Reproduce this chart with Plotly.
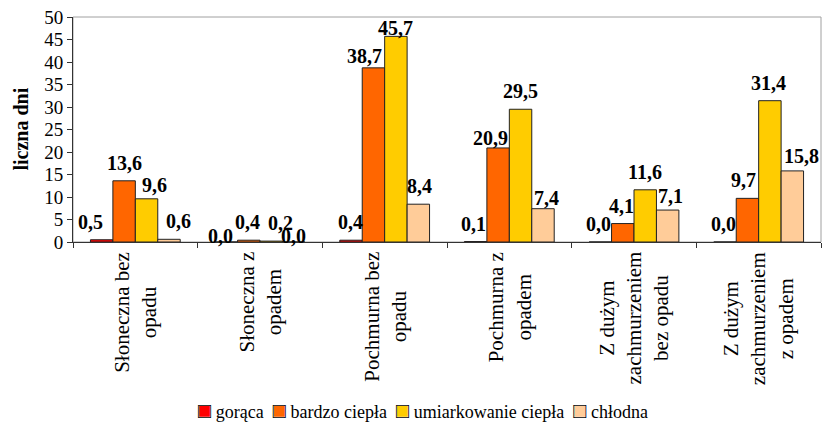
import plotly.graph_objects as go

# Number of days per cloud/precipitation class, split by thermal class
categories = [
    "Słoneczna bez<br>opadu",
    "Słoneczna z<br>opadem",
    "Pochmurna bez<br>opadu",
    "Pochmurna z<br>opadem",
    "Z dużym<br>zachmurzeniem<br>bez opadu",
    "Z dużym<br>zachmurzeniem<br>z opadem",
]
series_names = ["gorąca", "bardzo ciepła", "umiarkowanie ciepła", "chłodna"]
goraca = [0.5, 0.0, 0.4, 0.1, 0.0, 0.0]
bardzo_ciepla = [13.6, 0.4, 38.7, 20.9, 4.1, 9.7]
umiarkowanie_ciepla = [9.6, 0.2, 45.7, 29.5, 11.6, 31.4]
chlodna = [0.6, 0.0, 8.4, 7.4, 7.1, 15.8]
y_ticks = [0, 5, 10, 15, 20, 25, 30, 35, 40, 45, 50]

series_values = [goraca, bardzo_ciepla, umiarkowanie_ciepla, chlodna]
colors = ["#FF0000", "#FF6600", "#FFCC00", "#FFCC99"]

# hand-tuned label nudges (px) so neighbouring value labels do not collide
label_dx = [
    [-11, -6, -1, -2, -2, -2],
    [0, -1, -9, -8, -1, -4],
    [8, 9, 0, 0, 0, -1],
    [10, 0, 1, 4, 3, 9],
]
label_dy = [
    [0, -12, 0, 0, 0, 0],
    [0, 0, -6, -8, 0, 0],
    [-4, 0, -10, 0, 0, 0],
    [0, -12, 0, -7, -4, -3],
]

FONT = "Liberation Serif"
BARGAP = 0.28
n_series = len(series_values)
bar_w = (1 - BARGAP) / n_series
xs = list(range(len(categories)))

fig = go.Figure()
for name, vals, col in zip(series_names, series_values, colors):
    fig.add_trace(go.Bar(
        x=xs, y=vals, name=name, showlegend=False,
        marker=dict(color=col, line=dict(color="#222222", width=1)),
    ))

annotations = []
# value labels above each bar
for k, vals in enumerate(series_values):
    off = (k - (n_series - 1) / 2) * bar_w
    for i, v in enumerate(vals):
        annotations.append(dict(
            x=i + off, y=v, xref="x", yref="y",
            text="<b>" + f"{v:.1f}".replace(".", ",") + "</b>",
            showarrow=False, xanchor="center", yanchor="bottom",
            xshift=label_dx[k][i], yshift=5 + label_dy[k][i],
            font=dict(family=FONT, size=20, color="#000000"),
        ))

# rotated category labels under the axis
for i, cat in enumerate(categories):
    annotations.append(dict(
        x=i, y=0, xref="x", yref="y", text=cat, textangle=-90,
        showarrow=False, xanchor="center", yanchor="top", yshift=-8,
        align="center",
        font=dict(family=FONT, size=21, color="#000000"),
    ))

# y axis title
annotations.append(dict(
    x=0, y=0.5, xref="paper", yref="paper", text="<b>liczna dni</b>",
    textangle=-90, showarrow=False, xanchor="center", yanchor="middle",
    xshift=-53, font=dict(family=FONT, size=20, color="#000000"),
))

# compact legend line: coloured filled boxes, then black box outlines on top
NB = "\u00a0"
def legend_line(box_char, box_colors, text_color):
    parts = []
    for name, col in zip(series_names, box_colors):
        parts.append(
            f"<span style='font-size:22px;color:{col}'>{box_char}</span>"
            f"<span style='color:{text_color}'>{NB}{name}</span>"
        )
    return (NB * 2).join(parts)

for box_char, box_colors, text_color in [
    ("\u25A0", colors, "#000000"),
    ("\u25A1", ["#000000"] * n_series, "rgba(0,0,0,0)"),
]:
    annotations.append(dict(
        x=0.468, y=-0.747, xref="paper", yref="paper",
        text=legend_line(box_char, box_colors, text_color),
        showarrow=False, xanchor="center", yanchor="middle",
        font=dict(family=FONT, size=18, color="#000000"),
    ))

fig.update_layout(
    width=823, height=425,
    margin=dict(l=73, r=2, t=17, b=183),
    paper_bgcolor="#FFFFFF", plot_bgcolor="#FFFFFF",
    barmode="group", bargap=BARGAP, bargroupgap=0,
    showlegend=False,
    annotations=annotations,
    shapes=[dict(
        type="rect", xref="paper", yref="paper", x0=0, x1=1, y0=0, y1=1,
        line=dict(color="#A0A0A0", width=1), layer="below",
    )],
    font=dict(family=FONT, color="#000000"),
)
fig.update_xaxes(
    range=[-0.5, len(categories) - 0.5],
    tickvals=[i - 0.5 for i in range(len(categories) + 1)],
    showticklabels=False, ticks="outside", ticklen=5, tickcolor="#333333",
    showline=True, linecolor="#333333", linewidth=1, showgrid=False, zeroline=False,
)
fig.update_yaxes(
    range=[0, 50], tickvals=y_ticks, ticks="outside", ticklen=5,
    tickcolor="#333333", showline=True, linecolor="#333333", linewidth=1,
    showgrid=False, zeroline=False,
    tickfont=dict(family=FONT, size=19, color="#000000"),
)

fig.write_html("out.html")
